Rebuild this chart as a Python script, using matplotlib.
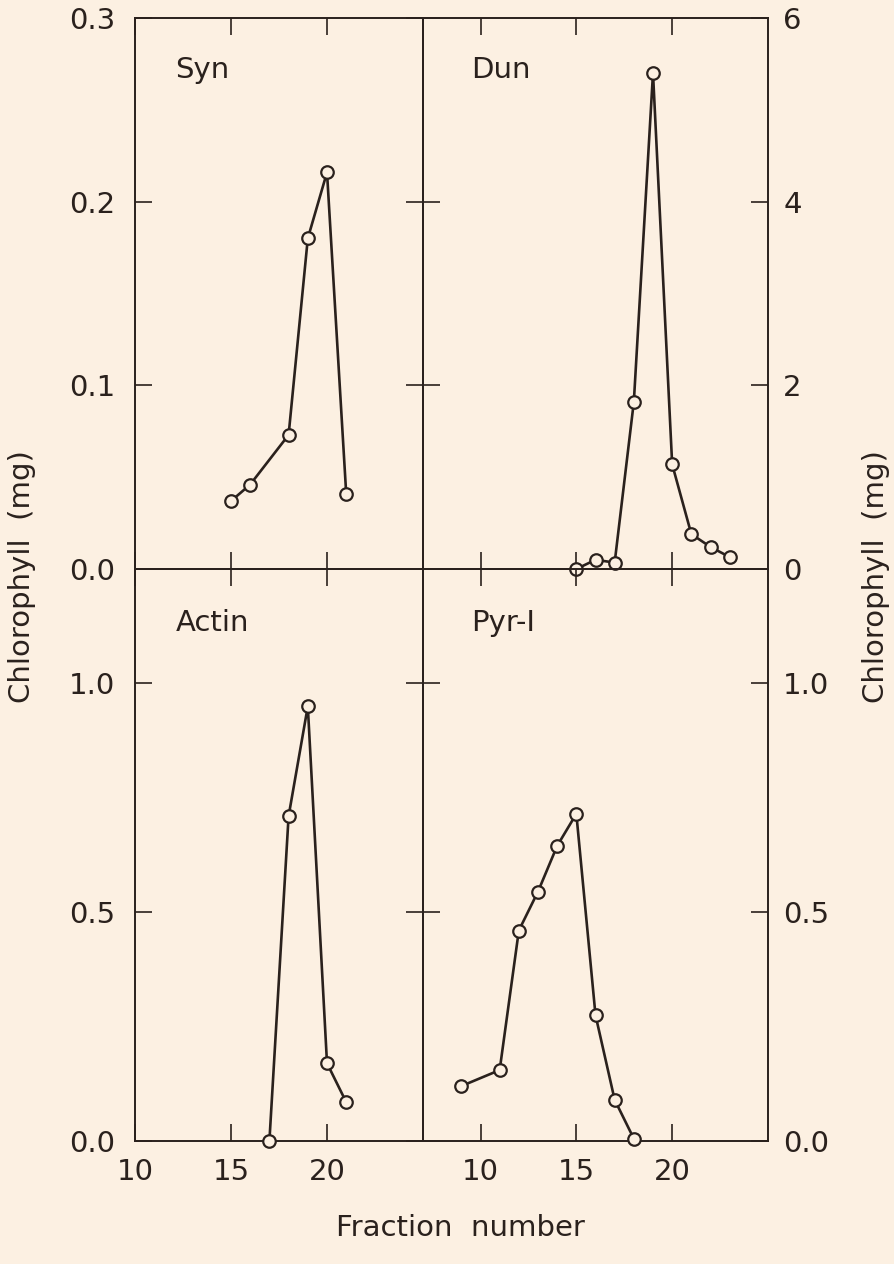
import matplotlib
matplotlib.use("Agg")
import matplotlib.pyplot as plt

# fraction numbers and chlorophyll (mg)
syn_x = [15, 16, 18, 19, 20, 21]
syn_y = [0.037, 0.046, 0.073, 0.180, 0.216, 0.041]

dun_x = [15, 16, 17, 18, 19, 20, 21, 22, 23]
dun_y = [0.0, 0.10, 0.07, 1.82, 5.40, 1.14, 0.38, 0.24, 0.13]

actin_x = [17, 18, 19, 20, 21]
actin_y = [0.0, 0.71, 0.95, 0.17, 0.085]

pyr_x = [9, 11, 12, 13, 14, 15, 16, 17, 18]
pyr_y = [0.12, 0.155, 0.46, 0.545, 0.645, 0.715, 0.275, 0.09, 0.005]

BG = '#fcf0e2'
INK = '#2a211d'
TAILLE = 21

plt.rcParams['font.family'] = ['DejaVu Sans']
plt.rcParams['font.size'] = TAILLE
plt.rcParams['text.color'] = INK

fig = plt.figure(figsize=(8.94, 12.64), dpi=100, facecolor=BG)

W = 894.0
H = 1264.0


def boite(x0, x1, y0, y1):
    return fig.add_axes([x0 / W, 1 - y1 / H, (x1 - x0) / W, (y1 - y0) / H])


axSyn = boite(135, 423, 18, 569)
axDun = boite(423, 768, 18, 569)
axAct = boite(135, 423, 569, 1141)
axPyr = boite(423, 768, 569, 1141)

panneaux = [
    (axSyn, syn_x, syn_y, 'Syn', (10, 25), (0, 0.3), [0, 0.1, 0.2, 0.3],
     ['0.0', '0.1', '0.2', '0.3']),
    (axDun, dun_x, dun_y, 'Dun', (7, 25), (0, 6), [0, 2, 4, 6],
     ['0', '2', '4', '6']),
    (axAct, actin_x, actin_y, 'Actin', (10, 25), (0, 1.25), [0, 0.5, 1.0],
     ['0.0', '0.5', '1.0']),
    (axPyr, pyr_x, pyr_y, 'Pyr-I', (7, 25), (0, 1.25), [0, 0.5, 1.0],
     ['0.0', '0.5', '1.0']),
]

for i, (ax, x, y, nom, xl, yl, yt, ytl) in enumerate(panneaux):
    ax.set_facecolor('none')
    ax.plot(x, y, '-o', color=INK, lw=1.9, ms=9, mew=1.6,
            mfc=BG, mec=INK, clip_on=False, zorder=5)
    ax.set_xlim(*xl)
    ax.set_ylim(*yl)
    ax.set_xticks([10, 15, 20])
    ax.set_xticklabels(['10', '15', '20'])
    ax.set_yticks(yt)
    ax.set_yticklabels(ytl)
    for s in ax.spines.values():
        s.set_linewidth(1.4)
        s.set_color(INK)
    gauche = i in (0, 2)
    bas = i in (2, 3)
    ax.tick_params(direction='in', top=True, right=True, bottom=True,
                   left=True, length=12, width=1.2, color=INK,
                   labelleft=gauche, labelright=not gauche,
                   labelbottom=bas, labeltop=False, labelsize=TAILLE,
                   labelcolor=INK)
    ax.tick_params(axis='x', pad=12)
    ax.tick_params(axis='y', pad=14 if gauche else 11)
    ax.text(0.14, 0.905, nom, transform=ax.transAxes, fontsize=TAILLE,
            va='center', ha='left')

fig.text(22 / W, 1 - 577 / H, 'Chlorophyll  (mg)', rotation=90,
         ha='center', va='center', fontsize=TAILLE)
fig.text(876 / W, 1 - 577 / H, 'Chlorophyll  (mg)', rotation=90,
         ha='center', va='center', fontsize=TAILLE)
fig.text(460 / W, 1 - 1228 / H, 'Fraction  number', ha='center',
         va='center', fontsize=TAILLE)

fig.savefig('out.png', dpi=100, facecolor=BG)
